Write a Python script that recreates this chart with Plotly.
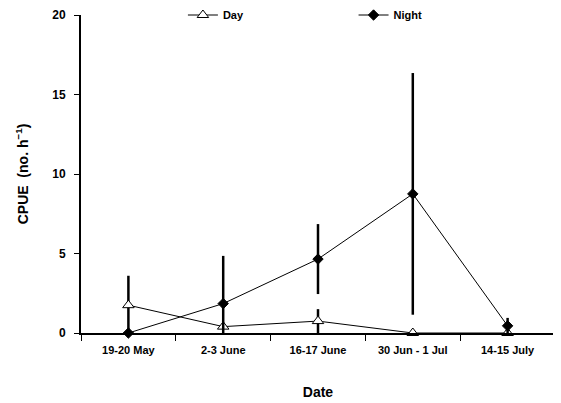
import numpy as np
import plotly.graph_objects as go

dates = ["19-20 May", "2-3 June", "16-17 June", "30 Jun - 1 Jul", "14-15 July"]
day_cpue = [1.75, 0.4, 0.75, 0.0, 0.0]
day_err = [1.85, 0.0, 0.75, 0.0, 0.0]
night_cpue = [0.0, 1.85, 4.65, 8.75, 0.45]
night_err = [0.0, 3.0, 2.2, 7.6, 0.5]
y_ticks = [0, 5, 10, 15, 20]

FONT = "Liberation Sans, Arial, sans-serif"

def lower(vals, errs):
    return list(np.minimum(np.array(errs), np.array(vals)))

fig = go.Figure()
fig.add_trace(go.Scatter(
    x=dates, y=day_cpue, name="Day", mode="lines+markers",
    line=dict(color="black", width=1),
    marker=dict(symbol="triangle-up", size=10, color="white",
                line=dict(color="black", width=1)),
    error_y=dict(type="data", array=day_err, arrayminus=lower(day_cpue, day_err),
                 color="black", thickness=2.5, width=0),
    cliponaxis=False, legend="legend",
))
fig.add_trace(go.Scatter(
    x=dates, y=night_cpue, name="Night", mode="lines+markers",
    line=dict(color="black", width=1),
    marker=dict(symbol="diamond", size=8, color="black",
                line=dict(color="black", width=1)),
    error_y=dict(type="data", array=night_err, arrayminus=lower(night_cpue, night_err),
                 color="black", thickness=2.5, width=0),
    cliponaxis=False, legend="legend2",
))

leg_common = dict(yanchor="middle", xanchor="left", bgcolor="rgba(0,0,0,0)",
                  font=dict(size=11, family=FONT, weight="bold"), itemwidth=30)

fig.update_layout(
    width=553, height=395,
    margin=dict(l=73, r=6, t=7, b=70, autoexpand=False),
    paper_bgcolor="white", plot_bgcolor="white",
    font=dict(family=FONT, color="black", size=11),
    showlegend=True,
    legend=dict(x=0.215, y=1.0, **leg_common),
    legend2=dict(x=0.575, y=1.0, **leg_common),
    xaxis=dict(
        type="category", range=[-0.5, 4.5], tickson="boundaries",
        showline=True, linecolor="black", linewidth=2,
        ticks="outside", ticklen=6, tickwidth=1, tickcolor="black",
        showgrid=False, zeroline=False,
        tickfont=dict(size=11, family=FONT, weight="bold"),
        ticklabelstandoff=6,
        title=dict(text="<b>Date</b>", font=dict(size=14, family=FONT), standoff=32),
    ),
    yaxis=dict(
        range=[0, 20], tickvals=y_ticks,
        showline=True, linecolor="black", linewidth=2,
        ticks="outside", ticklen=5, tickwidth=1, tickcolor="black",
        showgrid=False, zeroline=False,
        tickfont=dict(size=12, family=FONT, weight="bold"),
        ticklabelstandoff=6,
        title=dict(text="<b>CPUE  (no. h<sup>−1</sup>)</b>", font=dict(size=14, family=FONT), standoff=20),
    ),
)

fig.write_html("out.html")
